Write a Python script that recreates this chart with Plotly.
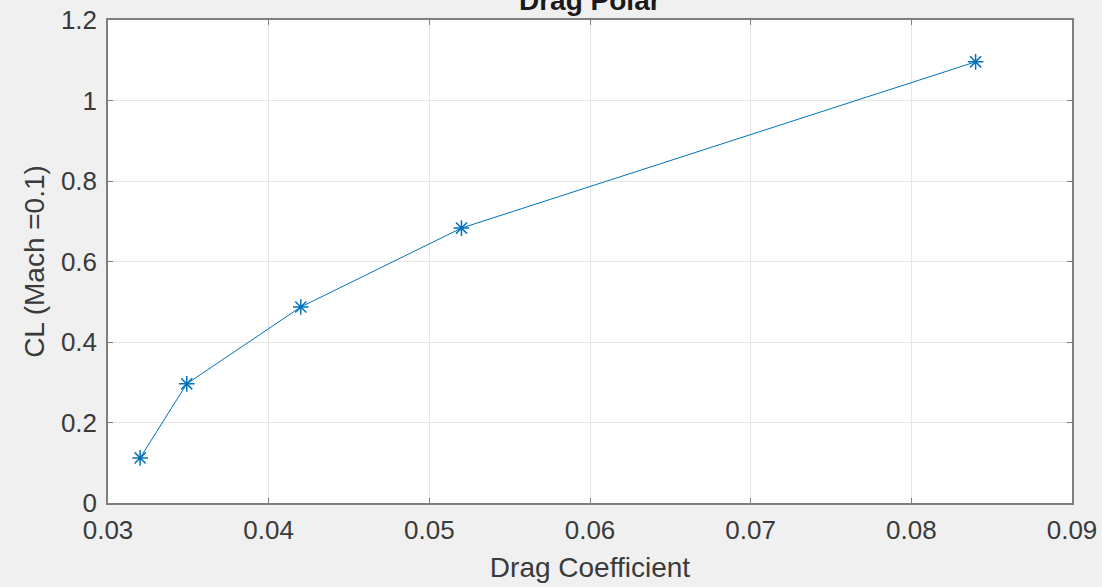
import plotly.graph_objects as go

drag_coefficient = [0.032, 0.0349, 0.042, 0.052, 0.084]
cl_values = [0.112, 0.296, 0.487, 0.683, 1.096]
x_ticks = [0.03, 0.04, 0.05, 0.06, 0.07, 0.08, 0.09]
x_tick_labels = ["0.03", "0.04", "0.05", "0.06", "0.07", "0.08", "0.09"]
y_ticks = [0, 0.2, 0.4, 0.6, 0.8, 1.0, 1.2]
y_tick_labels = ["0", "0.2", "0.4", "0.6", "0.8", "1", "1.2"]

blue = "#0072BD"
font_family = "Liberation Sans, Arial"
fig = go.Figure()
fig.add_trace(go.Scatter(
    x=drag_coefficient, y=cl_values, mode="lines+markers",
    line=dict(color=blue, width=1),
    marker=dict(symbol="asterisk-open", size=13, color=blue,
                line=dict(color=blue, width=1.5)),
    showlegend=False,
))

axis_common = dict(
    showgrid=True, gridcolor="#e6e6e6", gridwidth=1,
    showline=True, linecolor="#7f7f7f", linewidth=1.5, mirror="ticks",
    ticks="inside", ticklen=5, tickcolor="#7f7f7f", tickwidth=1,
    zeroline=False, automargin=False,
    tickfont=dict(family=font_family, size=26, color="#3a3a3a"),
)

fig.update_layout(
    width=1102, height=587,
    margin=dict(l=108, r=30, t=20, b=84),
    paper_bgcolor="#f0f0f0", plot_bgcolor="white",
    xaxis=dict(range=[0.03, 0.09], tickvals=x_ticks, ticktext=x_tick_labels,
               ticklabelstandoff=3,
               title=dict(text="Drag Coefficient", standoff=13,
                          font=dict(family=font_family, size=28, color="#3a3a3a")),
               **axis_common),
    yaxis=dict(range=[0, 1.2], tickvals=y_ticks, ticktext=y_tick_labels,
               ticklabelstandoff=4,
               title=dict(text="CL (Mach =0.1)", standoff=8,
                          font=dict(family=font_family, size=28, color="#3a3a3a")),
               **axis_common),
    annotations=[dict(
        text="<b>Drag Polar</b>", xref="paper", yref="paper", x=0.5, y=1,
        xanchor="center", yanchor="bottom", yshift=2, showarrow=False,
        font=dict(family=font_family, size=28, color="#1a1a1a"),
    )],
)

fig.write_html("out.html")
